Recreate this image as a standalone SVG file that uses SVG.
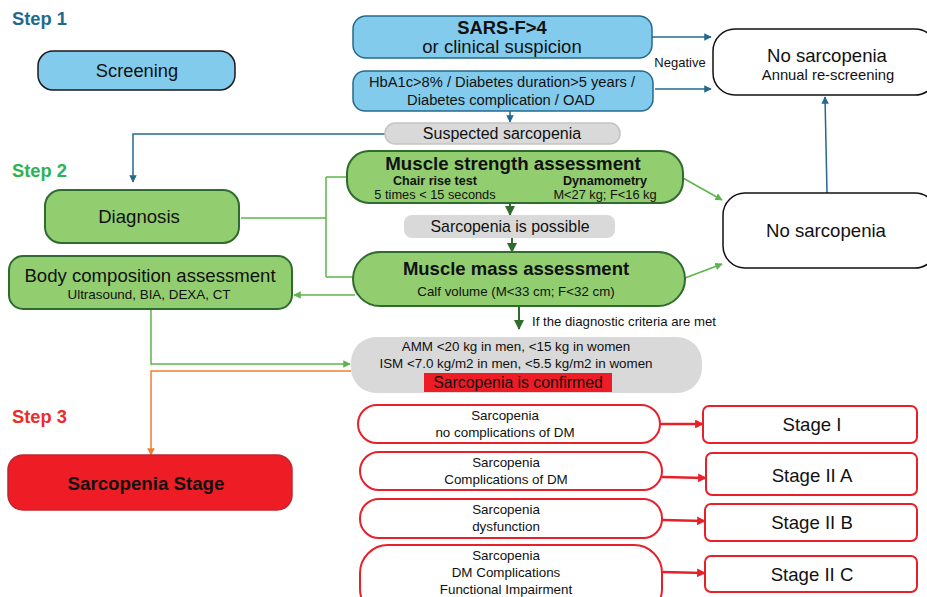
<svg xmlns="http://www.w3.org/2000/svg" width="927" height="597" viewBox="0 0 927 597">
<defs>
<marker id="ab" viewBox="0 0 10 10" refX="9" refY="5" markerWidth="5" markerHeight="5" orient="auto"><path d="M0,0 L10,5 L0,10 z" fill="#24698d"/></marker>
<marker id="ag" viewBox="0 0 10 10" refX="9" refY="5" markerWidth="5" markerHeight="5" orient="auto"><path d="M0,0 L10,5 L0,10 z" fill="#5cb54a"/></marker>
<marker id="adg" viewBox="0 0 10 10" refX="9" refY="5" markerWidth="5" markerHeight="5" orient="auto"><path d="M0,0 L10,5 L0,10 z" fill="#2f6b2f"/></marker>
<marker id="ao" viewBox="0 0 10 10" refX="9" refY="5" markerWidth="5" markerHeight="5" orient="auto"><path d="M0,0 L10,5 L0,10 z" fill="#ed7d31"/></marker>
<marker id="ar" viewBox="0 0 10 10" refX="9" refY="5" markerWidth="3.5" markerHeight="3.5" orient="auto"><path d="M0,0 L10,5 L0,10 z" fill="#e8202a"/></marker>
</defs>
<style>
text{font-family:"Liberation Sans",Arial,sans-serif;fill:#111;text-anchor:middle}
.step{font-weight:bold;font-size:18.3px;text-anchor:start}
.blue{fill:#82cbec;stroke:#24698d;stroke-width:1.5}
.grn{fill:#92cd70;stroke:#2f6b2f;stroke-width:2}
.gray{fill:#d9d9d9;stroke:#c4c4c4;stroke-width:1.5}
.wht{fill:#fff;stroke:#111;stroke-width:1.5}
.red{fill:#fff;stroke:#e8202a;stroke-width:2}
.b{font-weight:bold}
.cb{fill:none;stroke:#24698d;stroke-width:1.5}
.cg{fill:none;stroke:#5cb54a;stroke-width:1.5}
.cdg{fill:none;stroke:#2f6b2f;stroke-width:2}
.co{fill:none;stroke:#ed7d31;stroke-width:1.5}
.cr{fill:none;stroke:#e8202a;stroke-width:2.5}
.sm{font-size:13.4px}
.st{font-size:18.6px}
</style>
<rect width="927" height="597" fill="#fff"/>
<text class="step" x="12" y="25" style="fill:#1f6a8c">Step 1</text>
<text class="step" x="12" y="177" style="fill:#2db34f">Step 2</text>
<text class="step" x="12" y="423" style="fill:#ee2a2a">Step 3</text>

<g id="connectors">
<path class="cb" d="M652,37 H711" marker-end="url(#ab)"/>
<path class="cb" d="M655,89 H711" marker-end="url(#ab)"/>
<path class="cb" d="M510,111 V122" marker-end="url(#ab)"/>
<path class="cb" d="M385,134 H133 V182" marker-end="url(#ab)"/>
<path class="cb" d="M827,193 L825,97" marker-end="url(#ab)"/>
<path class="cg" d="M241,218 H326 M326,177 V277 M326,177 H347 M326,277 H355"/>
<path class="cg" d="M355,295 H294" marker-end="url(#ag)"/>
<path class="cg" d="M683,178 L722,200" marker-end="url(#ag)"/>
<path class="cg" d="M685,278 L722,264" marker-end="url(#ag)"/>
<path class="cdg" d="M510,203 V215" marker-end="url(#adg)"/>
<path class="cdg" d="M512,238 V252" marker-end="url(#adg)"/>
<path class="cdg" d="M519,306 V329" marker-end="url(#adg)"/>
<path class="cg" d="M151,309 V364 H350" marker-end="url(#ag)"/>
<path class="co" d="M351,371 H151 V455" marker-end="url(#ao)"/>
<path class="cr" d="M660,424 L703,424" marker-end="url(#ar)"/>
<path class="cr" d="M662,477 L706,478" marker-end="url(#ar)"/>
<path class="cr" d="M662,520 L705,521" marker-end="url(#ar)"/>
<path class="cr" d="M662,572 L705,573" marker-end="url(#ar)"/>
<text x="680" y="67" style="font-size:13px">Negative</text>
<text x="532" y="326" style="font-size:13.2px;text-anchor:start">If the diagnostic criteria are met</text>
</g>

<g id="screening"><rect x="38" y="51" width="197" height="39" rx="15" style="fill:#82cbec;stroke:#1a1a1a;stroke-width:1.5"/><text x="137" y="77" style="font-size:18.3px">Screening</text></g>
<g id="sarsf"><rect class="blue" x="353" y="16" width="299" height="42" rx="13"/><text class="b" x="502" y="34" style="font-size:18.4px">SARS-F&gt;4</text><text x="502" y="53" style="font-size:18.5px">or clinical suspicion</text></g>
<g id="hba1c"><rect class="blue" x="353" y="71" width="300" height="40" rx="12"/><text x="502" y="87" style="font-size:14.7px">HbA1c&gt;8% / Diabetes duration&gt;5 years /</text><text x="501" y="105" style="font-size:14.7px">Diabetes complication / OAD</text></g>
<g id="suspected"><rect class="gray" x="385" y="123" width="235" height="21" rx="10"/><text x="502" y="139" style="font-size:16px">Suspected sarcopenia</text></g>
<g id="nosarc1"><rect class="wht" x="713" y="29" width="224" height="66" rx="22"/><text x="827" y="62" style="font-size:18.6px">No sarcopenia</text><text x="828" y="80" style="font-size:14.8px">Annual re-screening</text></g>
<g id="nosarc2"><rect class="wht" x="723" y="193" width="214" height="75" rx="22"/><text x="826" y="237" style="font-size:18.6px">No sarcopenia</text></g>
<g id="diagnosis"><rect class="grn" x="45" y="190" width="194" height="53" rx="16"/><text x="139" y="223" style="font-size:18.6px">Diagnosis</text></g>
<g id="bodycomp"><rect class="grn" x="9" y="256" width="283" height="53" rx="14"/><text x="150" y="282" style="font-size:18.6px">Body composition assessment</text><text x="149" y="299" style="font-size:13.4px">Ultrasound, BIA, DEXA, CT</text></g>
<g id="strength"><rect class="grn" x="347" y="151" width="336" height="52" rx="22"/><text class="b" x="513" y="170" style="font-size:18.7px">Muscle strength assessment</text><text class="b" x="435" y="185" style="font-size:12.6px">Chair rise test</text><text x="435" y="199" style="font-size:12.8px">5 times &lt; 15 seconds</text><text class="b" x="605" y="185" style="font-size:12.6px">Dynamometry</text><text x="605" y="199" style="font-size:12.8px">M&lt;27 kg; F&lt;16 kg</text></g>
<g id="possible"><rect class="gray" x="404" y="215" width="211" height="23" rx="8" style="stroke:none"/><text x="510" y="232" style="font-size:15.9px">Sarcopenia is possible</text></g>
<g id="mass"><rect class="grn" x="353" y="252" width="332" height="54" rx="27"/><text x="516" y="275" style="font-size:18.5px" class="b">Muscle mass assessment</text><text x="516" y="296" style="font-size:13.3px">Calf volume (M&lt;33 cm; F&lt;32 cm)</text></g>
<g id="criteria"><rect x="351" y="337" width="351" height="56" rx="25" style="fill:#d9d9d9"/><text x="516" y="351" style="font-size:13.4px">AMM &lt;20 kg in men, &lt;15 kg in women</text><text x="516" y="368" style="font-size:13.4px">ISM &lt;7.0 kg/m2 in men, &lt;5.5 kg/m2 in women</text><rect x="424" y="373" width="188" height="19" fill="#ee1c25"/><text x="518" y="388" style="font-size:15.8px">Sarcopenia is confirmed</text></g>
<g id="stage"><rect x="8" y="455" width="284" height="55" rx="15" style="fill:#ee1c25;stroke:#c0272d;stroke-width:1.5"/><text class="b" x="146" y="490" style="font-size:18.7px">Sarcopenia Stage</text></g>
<g id="c1"><rect class="red" x="358" y="405" width="302" height="38" rx="19"/><text class="sm" x="505" y="420">Sarcopenia</text><text class="sm" x="505" y="437">no complications of DM</text></g>
<g id="c2"><rect class="red" x="360" y="452" width="302" height="38" rx="19"/><text class="sm" x="506" y="467">Sarcopenia</text><text class="sm" x="506" y="484">Complications of DM</text></g>
<g id="c3"><rect class="red" x="360" y="499" width="302" height="39" rx="19"/><text class="sm" x="506" y="514">Sarcopenia</text><text class="sm" x="506" y="531">dysfunction</text></g>
<g id="c4"><rect class="red" x="360" y="545" width="302" height="72" rx="28"/><text class="sm" x="506" y="560">Sarcopenia</text><text class="sm" x="506" y="577">DM Complications</text><text class="sm" x="506" y="594">Functional Impairment</text></g>
<g id="s1"><rect class="red" x="703" y="406" width="214" height="37" rx="6"/><text class="st" x="812" y="431">Stage I</text></g>
<g id="s2"><rect class="red" x="706" y="453" width="211" height="42" rx="6"/><text class="st" x="812" y="482">Stage II A</text></g>
<g id="s3"><rect class="red" x="705" y="504" width="212" height="37" rx="6"/><text class="st" x="812" y="529">Stage II B</text></g>
<g id="s4"><rect class="red" x="705" y="556" width="212" height="36" rx="6"/><text class="st" x="812" y="581">Stage II C</text></g>
</svg>
